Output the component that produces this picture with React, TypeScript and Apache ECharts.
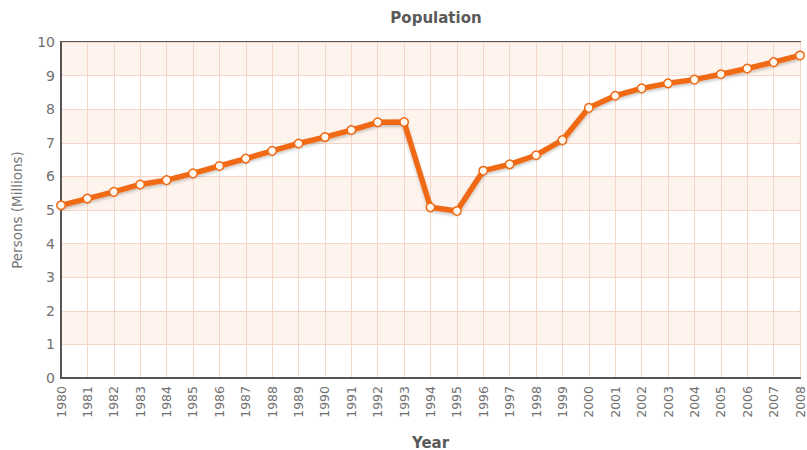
import React, { useEffect, useRef } from "react";
import * as echarts from "echarts";

const years = [
  "1980", "1981", "1982", "1983", "1984", "1985", "1986", "1987", "1988", "1989",
  "1990", "1991", "1992", "1993", "1994", "1995", "1996", "1997", "1998", "1999",
  "2000", "2001", "2002", "2003", "2004", "2005", "2006", "2007", "2008",
];
const population = [
  5.14, 5.34, 5.54, 5.76, 5.89, 6.09, 6.31, 6.53, 6.76, 6.98,
  7.17, 7.38, 7.61, 7.62, 5.08, 4.97, 6.17, 6.36, 6.63, 7.08,
  8.04, 8.4, 8.62, 8.77, 8.88, 9.04, 9.21, 9.4, 9.6,
];
const titleText = "Population";
const yAxisTitle = "Persons (Millions)";
const xAxisTitle = "Year";

const FONT = "DejaVu Sans";

export default function App() {
  const ref = useRef<HTMLDivElement>(null);
  useEffect(() => {
    if (!ref.current) return;
    const chart = echarts.init(ref.current, undefined, { renderer: "svg" });
    chart.setOption({
      animation: false,
      backgroundColor: "#ffffff",
      title: {
        text: titleText,
        left: 431,
        top: 5,
        textAlign: "center",
        textStyle: { fontFamily: FONT, fontSize: 15, fontWeight: "bold", color: "#5a5a5a" },
      },
      grid: {
        left: 61,
        right: 7,
        top: 42,
        bottom: 72,
        show: true,
        borderColor: "#555",
        borderWidth: 2,
        backgroundColor: "transparent",
        outerBoundsMode: "none",
        containLabel: false,
      },
      xAxis: {
        type: "category",
        data: years,
        boundaryGap: false,
        name: xAxisTitle,
        nameLocation: "middle",
        nameGap: 57,
        nameTextStyle: { fontFamily: FONT, fontSize: 15, fontWeight: "bold", color: "#5a5a5a" },
        axisLine: { show: true, lineStyle: { color: "#555", width: 2 } },
        axisTick: { show: false },
        axisLabel: {
          rotate: 90,
          interval: 0,
          margin: 8,
          fontFamily: FONT,
          fontSize: 12.5,
          color: "#707070",
        },
        splitLine: { show: true, interval: 0, lineStyle: { color: "#f3d6c8", width: 1 } },
      },
      yAxis: {
        type: "value",
        min: 0,
        max: 10,
        interval: 1,
        name: yAxisTitle,
        nameLocation: "middle",
        nameGap: 37,
        nameTextStyle: { fontFamily: FONT, fontSize: 13.5, color: "#757575" },
        axisLine: { show: true, lineStyle: { color: "#555", width: 2 } },
        axisTick: { show: false },
        axisLabel: { fontFamily: FONT, fontSize: 14, color: "#707070", margin: 6 },
        splitLine: { show: true, lineStyle: { color: "#f3d6c8", width: 1 } },
        splitArea: { show: true, areaStyle: { color: ["#ffffff", "#fef3ed"] } },
      },
      series: [
        {
          type: "line",
          data: population,
          symbol: "circle",
          symbolSize: 8.5,
          lineStyle: {
            color: "#f06a14",
            width: 5.5,
            shadowColor: "rgba(0,0,0,0.22)",
            shadowBlur: 3,
            shadowOffsetY: 2,
          },
          itemStyle: { color: "#fff8f0", borderColor: "#f06a14", borderWidth: 1.5 },
          z: 5,
        },
      ],
    });
    return () => chart.dispose();
  }, []);
  return (
    <div
      ref={ref}
      style={{ position: "fixed", left: 0, top: 0, width: 807, height: 450 }}
    />
  );
}
